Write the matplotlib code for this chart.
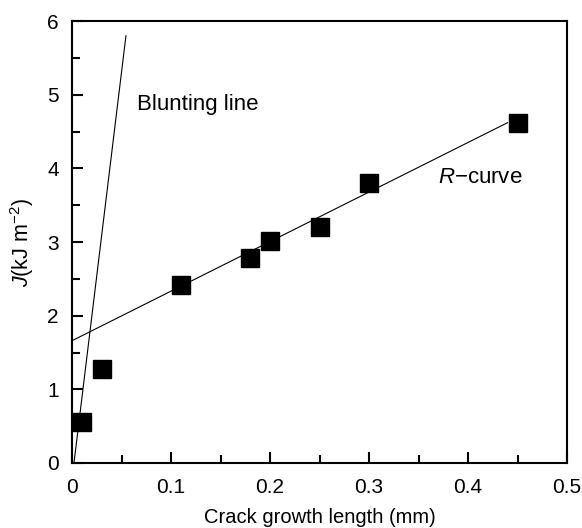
import matplotlib
matplotlib.use('Agg')
from matplotlib import pyplot as plt
from matplotlib.ticker import MultipleLocator

# 数据点
crack_len = [0.01, 0.03, 0.11, 0.18, 0.20, 0.25, 0.30, 0.45]
j_values = [0.55, 1.28, 2.42, 2.78, 3.01, 3.21, 3.80, 4.62]

# 拟合直线端点
blunt_x = [0.002, 0.0545]
blunt_y = [0.0, 5.8]
rcurve_x = [0.0, 0.44]
rcurve_y = [1.66, 4.62]

plt.rcParams['font.family'] = ['Liberation Sans', 'DejaVu Sans']
plt.rcParams['mathtext.fontset'] = 'custom'
plt.rcParams['mathtext.rm'] = 'Liberation Sans'
plt.rcParams['mathtext.it'] = 'Liberation Sans:italic'

fig = plt.figure(figsize=(5.82, 5.28), dpi=100)
ax = fig.add_axes([72 / 582, 1 - 463 / 528, 495 / 582, 442 / 528])

ax.plot(blunt_x, blunt_y, color='black', lw=0.8)
ax.plot(rcurve_x, rcurve_y, color='black', lw=0.8)
ax.plot(crack_len, j_values, 's', color='black', markersize=12.5, clip_on=False)

ax.text(0.066, 4.87, 'Blunting line', fontsize=16, va='center', ha='left')
ax.text(0.37, 3.87, '$R$\u2212curve', fontsize=16, va='center', ha='left')

ax.set_xlim(0, 0.5)
ax.set_ylim(0, 6)
ax.xaxis.set_minor_locator(MultipleLocator(0.05))
ax.yaxis.set_major_locator(MultipleLocator(1))
ax.yaxis.set_minor_locator(MultipleLocator(0.5))
ax.xaxis.set_ticks([0, 0.1, 0.2, 0.3, 0.4, 0.5], ['0', '0.1', '0.2', '0.3', '0.4', '0.5'])

ax.tick_params(which='both', direction='in', labelsize=15, width=1.5, top=False, right=False)
ax.tick_params(which='major', length=8)
ax.tick_params(which='minor', length=6)
ax.tick_params(axis='x', which='major', pad=10.5)
ax.tick_params(axis='y', which='major', pad=9.5)
for s in ax.spines.values():
    s.set_linewidth(1.5)

ax.set_xlabel('Crack growth length (mm)', fontsize=14.5, labelpad=8.5)
ax.set_ylabel('$J$(kJ m$^{-2}$)', fontsize=15.5, labelpad=8)

fig.savefig('out.png', dpi=100)
